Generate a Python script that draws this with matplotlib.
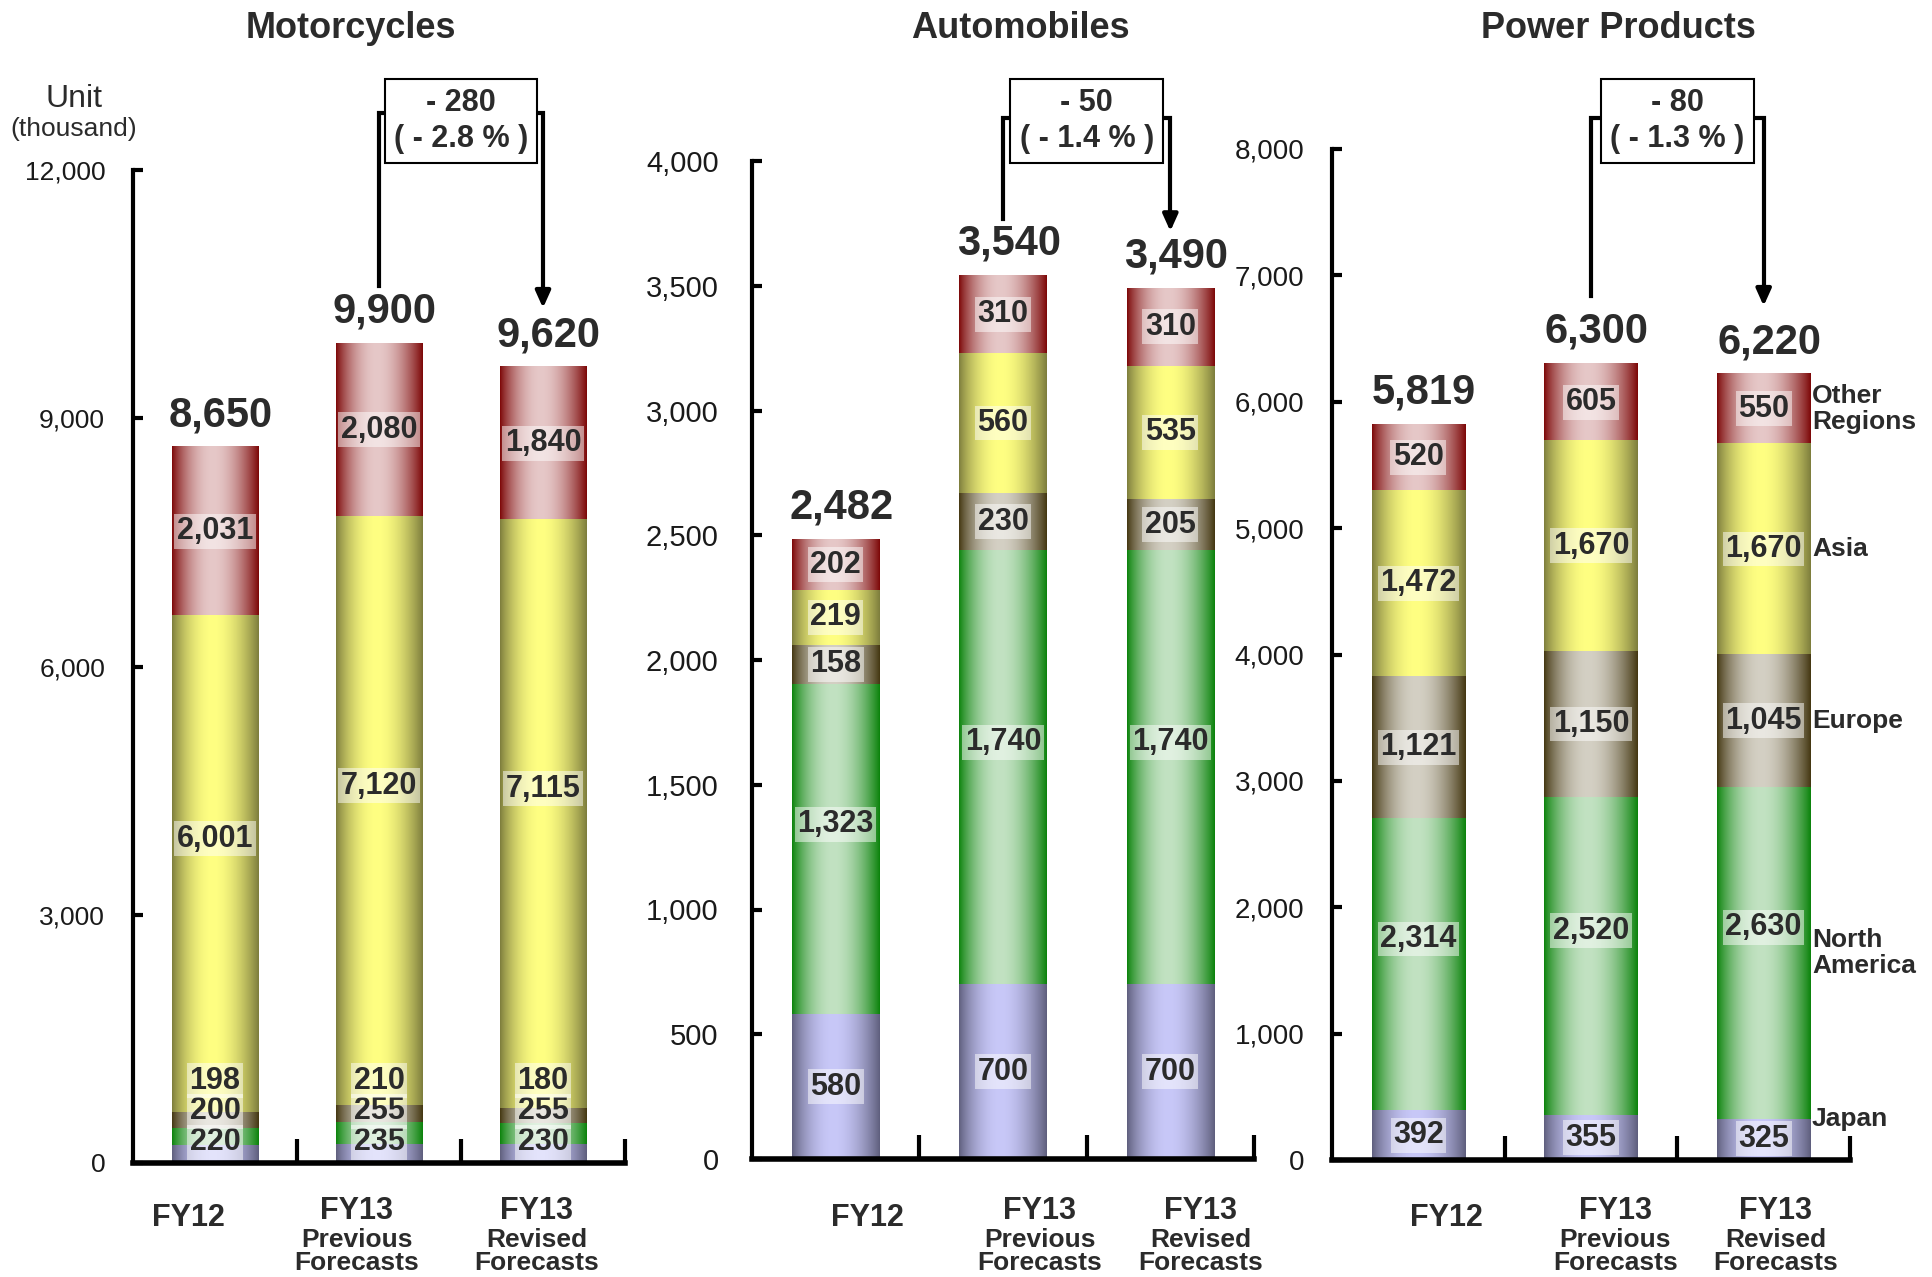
import matplotlib
matplotlib.use("Agg")
import matplotlib.pyplot as plt
import numpy as np
from matplotlib.colors import to_rgb
from matplotlib.ticker import FuncFormatter, MultipleLocator, FixedLocator
from matplotlib.transforms import blended_transform_factory

plt.rcParams['font.family'] = ['Liberation Sans', 'DejaVu Sans']

regions = ["Japan", "North America", "Europe", "Asia", "Other Regions"]
periods = ["FY12", "FY13", "FY13"]
period_notes = ["", "Previous\nForecasts", "Revised\nForecasts"]

# unit sales (thousand) : FY12, FY13 previous forecast, FY13 revised forecast
moto_japan = [220, 235, 230]
moto_north_america = [200, 255, 255]
moto_europe = [198, 210, 180]
moto_asia = [6001, 7120, 7115]
moto_other = [2031, 2080, 1840]

auto_japan = [580, 700, 700]
auto_north_america = [1323, 1740, 1740]
auto_europe = [158, 230, 205]
auto_asia = [219, 560, 535]
auto_other = [202, 310, 310]

power_japan = [392, 355, 325]
power_north_america = [2314, 2520, 2630]
power_europe = [1121, 1150, 1045]
power_asia = [1472, 1670, 1670]
power_other = [520, 605, 550]

# cylinder shading: colour at the bar edge and in the middle, per region
edge_colors = ["#5e5e7c", "#0a820a", "#433610", "#7c7c3c", "#7c0606"]
center_colors = ["#c8c8f8", "#c2e2c2", "#d4d0c4", "#ffff82", "#e6c8c8"]

W, H = 1933, 1277
TXT = "#2b2b2b"

panels = [
    dict(title="Motorcycles", series=[moto_japan, moto_north_america, moto_europe, moto_asia, moto_other],
         ymax=12000, step=3000, box=(133, 625, 1163, 170), title_x=351, tick_size=19, tick_pad=20,
         bar_w=0.53, cat_dx=(-0.165, -0.135, -0.04), gap_px=(58, 59), top_px=113),
    dict(title="Automobiles", series=[auto_japan, auto_north_america, auto_europe, auto_asia, auto_other],
         ymax=4000, step=500, box=(752, 1254, 1159, 161), title_x=1020, tick_size=21, tick_pad=24,
         bar_w=0.52, cat_dx=(0.19, 0.22, 0.18), gap_px=(57, 57), top_px=118),
    dict(title="Power Products", series=[power_japan, power_north_america, power_europe, power_asia, power_other],
         ymax=8000, step=1000, box=(1332, 1850, 1160, 149), title_x=1618, tick_size=20, tick_pad=20,
         bar_w=0.54, cat_dx=(0.16, 0.14, 0.07), gap_px=(68, 68), top_px=118),
]


def gradient_strip(edge, center, n=256):
    t = np.linspace(0, 1, n)
    w = np.sin(np.pi * t ** 0.92) ** 0.9
    e = np.array(to_rgb(edge))
    c = np.array(to_rgb(center))
    return (e + (c - e) * w[:, None])[None, :, :]


fig = plt.figure(figsize=(W / 100, H / 100), dpi=100)

for p in panels:
    x0, x1, y0, y1 = p["box"]
    ax = fig.add_axes([x0 / W, (H - y0) / H, (x1 - x0) / W, (y0 - y1) / H])
    ymax = p["ymax"]
    x = np.arange(len(periods))
    bottom = np.zeros(len(periods))
    seg_bounds = []
    for k, vals in enumerate(p["series"]):
        bars = ax.bar(x, vals, p["bar_w"], bottom=bottom, color="none", edgecolor="none")
        strip = gradient_strip(edge_colors[k], center_colors[k])
        for r in bars:
            ax.imshow(strip, extent=(r.get_x(), r.get_x() + r.get_width(),
                                     r.get_y(), r.get_y() + r.get_height()),
                      aspect="auto", interpolation="bilinear", zorder=2)
        seg_bounds.append((bottom.copy(), np.array(vals)))
        bottom = bottom + np.array(vals)
    totals = bottom

    # value labels inside segments, pushed apart where segments are thin
    for j in range(len(periods)):
        last = -np.inf
        for k, (b, v) in enumerate(seg_bounds):
            y = b[j] + v[j] / 2
            if v[j] > 0.25 * ymax:
                y += 0.025 * ymax
            y = max(y, 0.021 * ymax, last + 0.031 * ymax)
            last = y
            ax.text(j, y, f"{v[j]:,}", ha="center", va="center", fontsize=22,
                    fontweight="bold", color=TXT, zorder=4,
                    bbox=dict(boxstyle="square,pad=0.08", fc="white", ec="none", alpha=0.5))
        ax.annotate(f"{int(totals[j]):,}", (j, totals[j]), xytext=(4, 23),
                    textcoords="offset points", ha="center", va="center", fontsize=30,
                    fontweight="bold", color=TXT, annotation_clip=False)

    ax.set_xlim(-0.5, 2.5)
    ax.set_ylim(0, ymax)
    for s in ("top", "right"):
        ax.spines[s].set_visible(False)
    ax.spines["left"].set_linewidth(3)
    ax.spines["bottom"].set_linewidth(4)
    ax.yaxis.set_major_locator(MultipleLocator(p["step"]))
    ax.yaxis.set_major_formatter(FuncFormatter(lambda v, _: f"{v:,.0f}"))
    ax.tick_params(axis="y", direction="in", length=7, width=3, pad=p["tick_pad"],
                   labelsize=p["tick_size"], labelcolor="#1a1a1a")
    ax.xaxis.set_major_locator(FixedLocator([0.5, 1.5, 2.5]))
    ax.set_xticklabels([])
    ax.tick_params(axis="x", direction="in", length=17, width=3)

    # category labels below the axis
    tr = blended_transform_factory(ax.transData, fig.transFigure)
    for j, (name, note) in enumerate(zip(periods, period_notes)):
        xc = j + p["cat_dx"][j]
        if note:
            ax.text(xc, 1 - 1211 / H, name, transform=tr, ha="center", va="center",
                    fontsize=22, fontweight="bold", color=TXT, clip_on=False)
            ax.text(xc, 1 - 1228 / H, note, transform=tr, ha="center", va="top",
                    fontsize=19, fontweight="bold", color=TXT, linespacing=0.95, clip_on=False)
        else:
            ax.text(xc, 1 - 1218 / H, name, transform=tr, ha="center", va="center",
                    fontsize=22, fontweight="bold", color=TXT, clip_on=False)

    fig.text(p["title_x"] / W, 1 - 28 / H, p["title"], ha="center", va="center",
             fontsize=26, fontweight="bold", color=TXT)

    # change between previous and revised forecast
    ppu = ax.bbox.height / ymax

    def y_at(px_from_top):
        return ymax + (y1 - px_from_top) / ppu

    y_low = totals[1] + p["gap_px"][0] / ppu
    y_tip = totals[2] + p["gap_px"][1] / ppu
    y_top = y_at(p["top_px"])
    ax.plot([1, 1, 2, 2], [y_low, y_top, y_top, y_tip + 18 / ppu], color="black", lw=3,
            clip_on=False, zorder=5, solid_joinstyle="miter")
    ax.annotate("", xy=(2, y_tip), xytext=(2, y_tip + 20 / ppu),
                arrowprops=dict(arrowstyle="-|>,head_length=1.0,head_width=0.45", color="black",
                                lw=3, shrinkA=0, shrinkB=0),
                annotation_clip=False, zorder=5)
    diff = int(totals[2] - totals[1])
    pct = diff / totals[1] * 100
    sign = "-" if diff < 0 else "+"
    ax.text(1.5, y_at(121), f"{sign} {abs(diff):,}\n( {sign} {abs(pct):.1f} % )",
            ha="center", va="center", fontsize=22, fontweight="bold", color=TXT,
            linespacing=1.25, zorder=6, clip_on=False,
            bbox=dict(boxstyle="square,pad=0.3", fc="white", ec="black", lw=1.5))

    if p["title"] == "Power Products":
        xr = 2 + p["bar_w"] / 2 + 0.01
        for k, (b, v) in enumerate(seg_bounds):
            y = b[2] + v[2] if k == 0 else b[2] + v[2] / 2
            ax.text(xr, y, regions[k].replace(" ", "\n"), ha="left", va="center",
                    fontsize=19, fontweight="bold", color=TXT, linespacing=1.1, clip_on=False)

fig.text(74 / W, 1 - 99 / H, "Unit", ha="center", va="center", fontsize=23, color=TXT)
fig.text(74 / W, 1 - 129 / H, "(thousand)", ha="center", va="center", fontsize=19, color=TXT)

fig.savefig("out.png", dpi=100)
